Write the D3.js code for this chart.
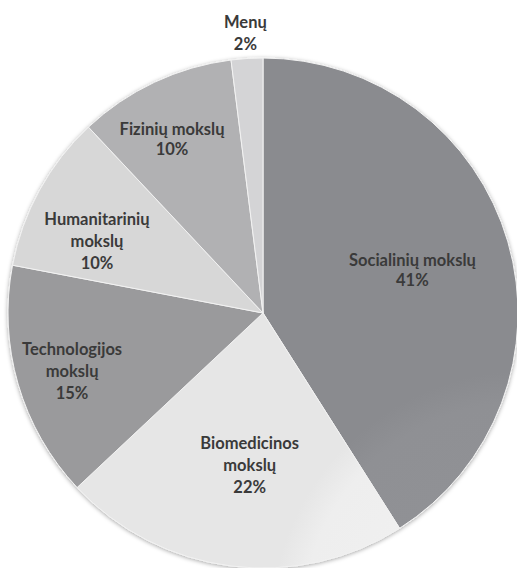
<!DOCTYPE html>
<html><head><meta charset="utf-8">
<script src="https://cdn.jsdelivr.net/npm/d3@7/dist/d3.min.js"></script>
<style>html,body{margin:0;padding:0;background:#fff;}svg{display:block;}</style>
</head><body>
<svg id="chart" width="517" height="568"></svg>
<script>
const categories = ["Socialinių mokslų", "Biomedicinos mokslų", "Technologijos mokslų", "Humanitarinių mokslų", "Fizinių mokslų", "Menų"];
const values = [41, 22, 15, 10, 10, 2];
const labelLines = [["Socialinių mokslų", "41%"], ["Biomedicinos", "mokslų", "22%"], ["Technologijos", "mokslų", "15%"], ["Humanitarinių", "mokslų", "10%"], ["Fizinių mokslų", "10%"], ["Menų", "2%"]];
const colors = ["#8f9094", "#eeeeee", "#a0a0a2", "#dfdfdf", "#b7b7b9", "#dcdcde"];
// label layout: radius factor and angular offset (degrees) from slice middle
const labelRadius = [0.61, 0.6, 0.783, 0.71, 0.77, 1.10];
const labelShift = [0, -2.2, -0.8, -5.3, -2.4, 0];
const labelLineH = [20, 22, 22, 22, 20, 22];

const W = 517, H = 568, cx = 263, cy = 313, R = 255;
const svg = d3.select("#chart");
const defs = svg.append("defs");
const f = defs.append("filter").attr("id","sh").attr("x","-10%").attr("y","-10%").attr("width","120%").attr("height","120%");
f.append("feDropShadow").attr("dx",0).attr("dy",1).attr("stdDeviation",2).attr("flood-color","#000").attr("flood-opacity",0.35);
colors.forEach((c,i)=>{
  const g = defs.append("radialGradient").attr("id","g"+i).attr("gradientUnits","userSpaceOnUse")
    .attr("cx",cx).attr("cy",cy).attr("r",R);
  g.append("stop").attr("offset","0%").attr("stop-color",d3.color(c).brighter(0.06));
  g.append("stop").attr("offset","88%").attr("stop-color",c);
  g.append("stop").attr("offset","100%").attr("stop-color",d3.color(c).darker(0.1));
});
const pie = d3.pie().sort(null).value(d=>d);
const arcs = pie(values);
const arc = d3.arc().innerRadius(0).outerRadius(R);
const g = svg.append("g").attr("transform",`translate(${cx},${cy})`);
g.append("g").attr("filter","url(#sh)").selectAll("path").data(arcs).join("path")
  .attr("d",arc).attr("fill",(d,i)=>`url(#g${i})`).attr("stroke","#f2f2f2").attr("stroke-width",1);
g.selectAll("text.lbl").data(arcs).join("text").attr("class","lbl")
  .attr("transform",(d,i)=>{
    const r = R*labelRadius[i];
    const a = (d.startAngle+d.endAngle)/2 + labelShift[i]*Math.PI/180;
    return `translate(${r*Math.sin(a)},${-r*Math.cos(a)})`;
  })
  .attr("text-anchor","middle")
  .attr("font-family","Lato, 'Open Sans', sans-serif").attr("font-weight","bold").attr("font-size",16.5).attr("fill","#3a3a3a")
  .each(function(d,i){
    const lines = labelLines[i];
    const t = d3.select(this);
    lines.forEach((l,j)=>{
      t.append("tspan").attr("x",0).attr("y",(j-(lines.length-1)/2)*labelLineH[i]+6).text(l);
    });
  });
</script>
</body></html>
